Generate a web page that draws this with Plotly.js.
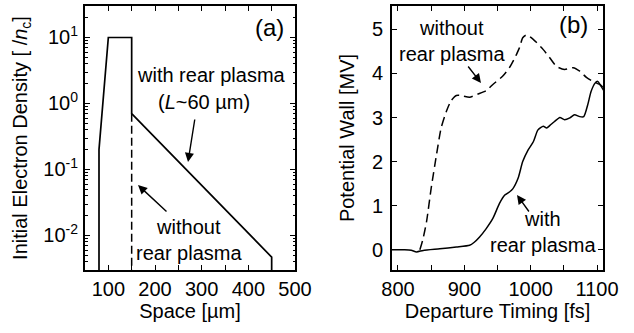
<!DOCTYPE html>
<html>
<head>
<meta charset="utf-8">
<script src="https://cdn.plot.ly/plotly-3.0.1.min.js"></script>
<style>html,body{margin:0;padding:0;background:#fff;}#chart{width:634px;height:333px;}</style>
</head>
<body>
<div id="chart"></div>
<script>
// Panel (a): initial electron density profile
var spaceWith = [80, 80, 100, 150, 150, 450, 450];
var densWith = [0.001, 0.2, 10, 10, 0.7, 0.0047, 0.001];
var spaceWithout = [150, 150];
var densWithout = [0.7, 0.001];
var densTickVals = [0.01, 0.1, 1, 10];
var densTickText = ['10<sup>-2</sup>', '10<sup>-1</sup>', '10<sup>0</sup>', '10<sup>1</sup>'];

// Panel (b): potential wall vs departure timing
var timeWith = [790, 810, 820, 828, 838, 863, 888, 908, 915, 923, 933, 943, 953, 961, 968, 973, 981, 988, 996, 1004, 1011, 1019, 1024, 1029, 1036, 1044, 1051, 1059, 1066, 1074, 1080, 1086, 1091, 1097, 1101, 1106, 1111];
var wallWith = [0, 0, -0.01, -0.05, -0.015, 0.02, 0.06, 0.10, 0.17, 0.29, 0.48, 0.71, 1.05, 1.24, 1.31, 1.38, 1.62, 2.0, 2.26, 2.45, 2.72, 2.80, 2.76, 2.82, 2.91, 3.00, 2.95, 2.99, 3.06, 3.02, 3.02, 3.29, 3.59, 3.78, 3.82, 3.71, 3.59];
var timeWithout = [833, 837, 843, 850, 858, 865, 873, 880, 888, 895, 908, 920, 933, 943, 958, 968, 976, 983, 988, 993, 999, 1009, 1019, 1029, 1039, 1051, 1064, 1074, 1084, 1094, 1104, 1112];
var wallWithout = [0, 0.2, 0.63, 1.39, 2.15, 2.76, 3.14, 3.38, 3.50, 3.50, 3.46, 3.53, 3.61, 3.75, 3.94, 4.13, 4.35, 4.58, 4.81, 4.87, 4.83, 4.70, 4.54, 4.35, 4.16, 4.09, 4.13, 4.05, 3.91, 3.82, 3.75, 3.65];

var W = 634, H = 333;
function px(x){ return x / W; }
function py(y){ return 1 - y / H; }
var FONT = {family: 'Liberation Sans, Arial, sans-serif', size: 20, color: '#000'};

var traces = [
  {x: spaceWith, y: densWith, xaxis: 'x', yaxis: 'y', mode: 'lines', line: {color: '#000', width: 1.7}, hoverinfo: 'skip'},
  {x: spaceWithout, y: densWithout, xaxis: 'x', yaxis: 'y', mode: 'lines', line: {color: '#000', width: 1.5, dash: '8px,4px'}, hoverinfo: 'skip'},
  {x: timeWith, y: wallWith, xaxis: 'x2', yaxis: 'y2', mode: 'lines', line: {color: '#000', width: 1.5, shape: 'spline', smoothing: 0.6}, hoverinfo: 'skip'},
  {x: timeWithout, y: wallWithout, xaxis: 'x2', yaxis: 'y2', mode: 'lines', line: {color: '#000', width: 1.5, dash: '9px,5px', shape: 'spline', smoothing: 0.6}, hoverinfo: 'skip'}
];

var axCommon = {showline: true, linecolor: '#000', linewidth: 2, mirror: 'allticks', ticks: 'inside', ticklen: 5, tickwidth: 1, tickcolor: '#000', showgrid: false, zeroline: false, tickfont: FONT};

function txt(x, y, t, size){
  return {xref: 'paper', yref: 'paper', x: px(x), y: py(y), xanchor: 'center', yanchor: 'middle', text: t, showarrow: false,
          font: {family: FONT.family, size: size || 20, color: '#000'}};
}
function arrow(x, y, ax, ay){
  return {xref: 'paper', yref: 'paper', x: px(x), y: py(y), ax: ax, ay: ay, text: '', showarrow: true,
          arrowhead: 2, arrowsize: 1.3, arrowwidth: 1.4, arrowcolor: '#000'};
}

var layout = {
  width: W, height: H,
  margin: {l: 0, r: 0, t: 0, b: 0},
  paper_bgcolor: '#fff', plot_bgcolor: '#fff',
  showlegend: false,
  font: FONT,
  xaxis: Object.assign({}, axCommon, {
    domain: [px(85), px(295)], range: [50, 500], anchor: 'y',
    tickvals: [100, 200, 300, 400, 500],
    minor: {tickvals: [50, 150, 250, 350, 450], ticks: 'inside', ticklen: 5, tickcolor: '#000'},
    title: {text: 'Space [µm]', font: FONT, standoff: 4}
  }),
  yaxis: Object.assign({}, axCommon, {
    domain: [py(270), py(6)], type: 'log', range: [Math.log10(0.003), Math.log10(30)], anchor: 'x',
    tickmode: 'array', tickvals: densTickVals, ticktext: densTickText, ticklabelstandoff: 1,
    minor: {dtick: 'D1', ticks: 'inside', ticklen: 2.5, tickcolor: '#000'},
    title: {text: 'Initial Electron Density [ /<i>n</i><sub>c</sub>]', font: FONT, standoff: 10}
  }),
  xaxis2: Object.assign({}, axCommon, {
    domain: [px(392), px(603)], range: [791, 1109], anchor: 'y2',
    tickvals: [800, 900, 1000, 1100],
    minor: {tickvals: [850, 950, 1050], ticks: 'inside', ticklen: 5, tickcolor: '#000'},
    title: {text: 'Departure Timing [fs]', font: FONT, standoff: 4}
  }),
  yaxis2: Object.assign({}, axCommon, {
    domain: [py(270), py(6)], range: [-0.46, 5.53], anchor: 'x2',
    tickvals: [0, 1, 2, 3, 4, 5], ticklabelstandoff: 3,
    title: {text: 'Potential Wall [MV]', font: FONT, standoff: 12}
  }),
  annotations: [
    txt(269, 27, '(a)', 24),
    txt(573, 25, '(b)', 24),
    txt(211, 75, 'with rear plasma'),
    txt(204, 102, '(<i>L</i>~60 µm)'),
    txt(189, 240, 'without<br>rear plasma'),
    txt(452, 41, 'without<br>rear plasma'),
    txt(543, 232, 'with<br>rear plasma'),
    arrow(188, 162, 7, -44),
    arrow(138, 185, 30, 28),
    arrow(481, 83, -14, -18),
    arrow(517, 195, 13, 18)
  ]
};

Plotly.newPlot('chart', traces, layout, {staticPlot: true, displayModeBar: false});
</script>
</body>
</html>
